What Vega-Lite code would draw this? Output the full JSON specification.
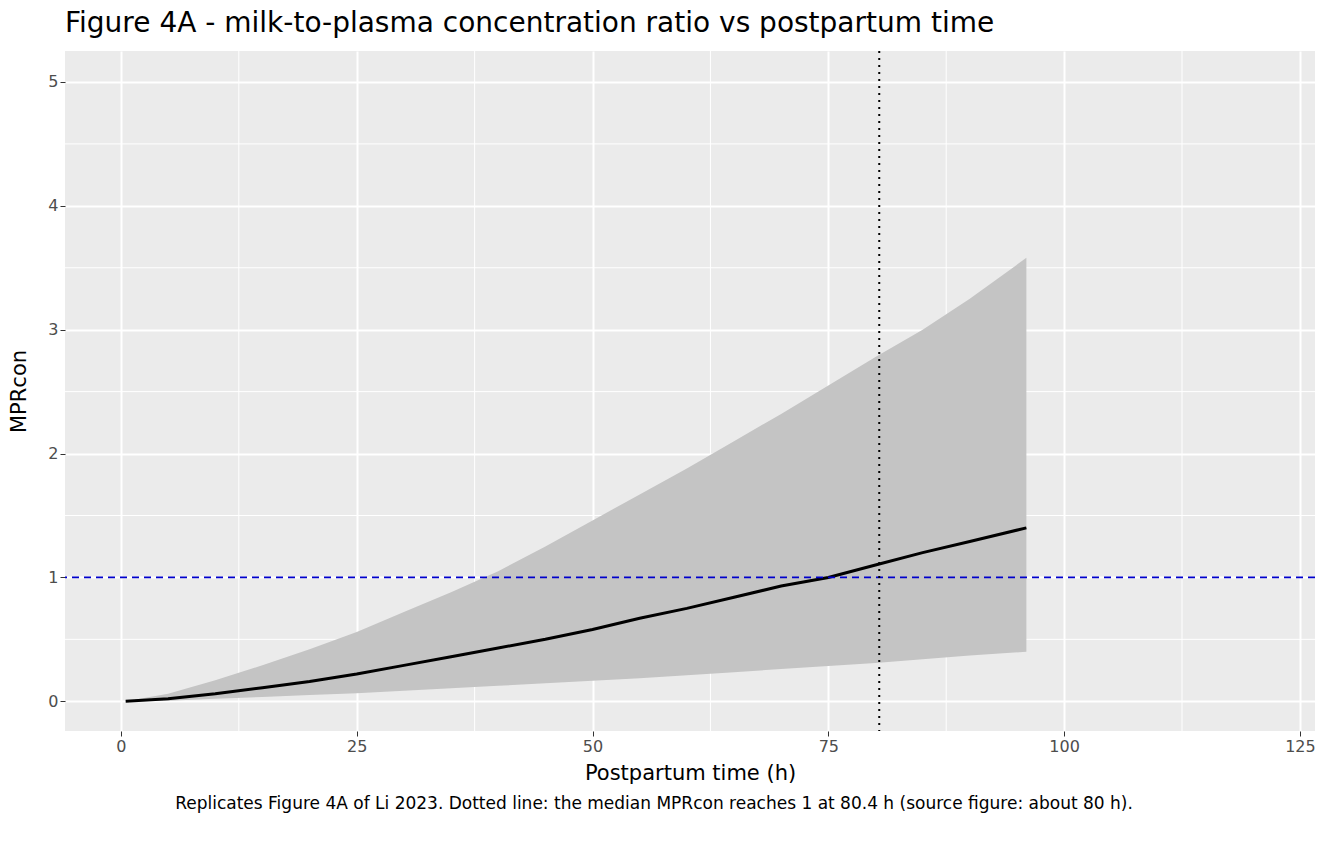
{
"$schema":"https://vega.github.io/schema/vega-lite/v6.json",
"padding":{"left":8,"top":10,"right":5,"bottom":5},
"background":"white",
"config":{"font":"DejaVu Sans","view":{"stroke":null},"concat":{"spacing":12}},
"datasets":{
"band":[
{"t":0.5,"med":0,"lo":0,"hi":0},
{"t":5,"med":0.02,"lo":0.005,"hi":0.06},
{"t":10,"med":0.06,"lo":0.02,"hi":0.17},
{"t":15,"med":0.11,"lo":0.035,"hi":0.29},
{"t":20,"med":0.16,"lo":0.05,"hi":0.42},
{"t":25,"med":0.22,"lo":0.065,"hi":0.56},
{"t":30,"med":0.29,"lo":0.085,"hi":0.72},
{"t":35,"med":0.36,"lo":0.105,"hi":0.88},
{"t":40,"med":0.43,"lo":0.125,"hi":1.05},
{"t":45,"med":0.5,"lo":0.145,"hi":1.25},
{"t":50,"med":0.58,"lo":0.165,"hi":1.46},
{"t":55,"med":0.67,"lo":0.185,"hi":1.67},
{"t":60,"med":0.75,"lo":0.21,"hi":1.88},
{"t":65,"med":0.84,"lo":0.235,"hi":2.1},
{"t":70,"med":0.93,"lo":0.26,"hi":2.32},
{"t":75,"med":1.0,"lo":0.285,"hi":2.55},
{"t":80,"med":1.1,"lo":0.31,"hi":2.78},
{"t":85,"med":1.2,"lo":0.34,"hi":3.0},
{"t":90,"med":1.29,"lo":0.37,"hi":3.25},
{"t":96,"med":1.4,"lo":0.4,"hi":3.58}
],
"minx":[{"v":12.5},{"v":37.5},{"v":62.5},{"v":87.5},{"v":112.5}],
"miny":[{"v":0.5},{"v":1.5},{"v":2.5},{"v":3.5},{"v":4.5}]
},
"vconcat":[
{
"width":1250,"height":680,
"title":{"text":"Figure 4A - milk-to-plasma concentration ratio vs postpartum time","fontSize":28,"fontWeight":"normal","anchor":"start","frame":"group","color":"black","offset":12},
"view":{"fill":"#EBEBEB","stroke":null},
"layer":[
{"data":{"name":"minx"},"mark":{"type":"rule","color":"white","strokeWidth":1},"encoding":{"x":{"field":"v","type":"quantitative","scale":{"domain":[-5.93,126.6],"nice":false,"zero":false}}}},
{"data":{"name":"miny"},"mark":{"type":"rule","color":"white","strokeWidth":1},"encoding":{"y":{"field":"v","type":"quantitative","scale":{"domain":[-0.24,5.25],"nice":false,"zero":false}}}},
{"data":{"name":"band"},"mark":{"type":"area","color":"#c4c4c4"},
"encoding":{
"x":{"field":"t","type":"quantitative","scale":{"domain":[-5.93,126.6],"nice":false,"zero":false},
"axis":{"values":[0,25,50,75,100,125],"format":"d","title":"Postpartum time (h)","titleFontSize":21,"titleFontWeight":"normal","titleColor":"black","labelFontSize":16,"labelColor":"#4d4d4d","grid":true,"gridColor":"white","gridWidth":2,"domain":false,"tickColor":"#333333","tickSize":5,"titlePadding":8}},
"y":{"field":"lo","type":"quantitative","scale":{"domain":[-0.24,5.25],"nice":false,"zero":false},
"axis":{"values":[0,1,2,3,4,5],"format":"d","title":"MPRcon","titleFontSize":21,"titleFontWeight":"normal","titleColor":"black","labelFontSize":16,"labelColor":"#4d4d4d","grid":true,"gridColor":"white","gridWidth":2,"domain":false,"tickColor":"#333333","tickSize":5,"titlePadding":18}},
"y2":{"field":"hi"}}},
{"data":{"name":"band"},"mark":{"type":"line","color":"black","strokeWidth":3},
"encoding":{"x":{"field":"t","type":"quantitative"},"y":{"field":"med","type":"quantitative"}}},
{"data":{"values":[{"y":1}]},"mark":{"type":"rule","color":"#0000CC","strokeWidth":1.8,"strokeDash":[7,5]},"encoding":{"y":{"field":"y","type":"quantitative"}}},
{"data":{"values":[{"x":80.4}]},"mark":{"type":"rule","color":"black","strokeWidth":2,"strokeDash":[2,5]},"encoding":{"x":{"field":"x","type":"quantitative"}}}
]
},
{
"width":1250,"height":18,
"view":{"stroke":null},
"data":{"values":[{"c":"Replicates Figure 4A of Li 2023. Dotted line: the median MPRcon reaches 1 at 80.4 h (source figure: about 80 h)."}]},
"mark":{"type":"text","fontSize":17,"color":"black","align":"center","dx":-36},
"encoding":{"text":{"field":"c"}}
}
]
}
